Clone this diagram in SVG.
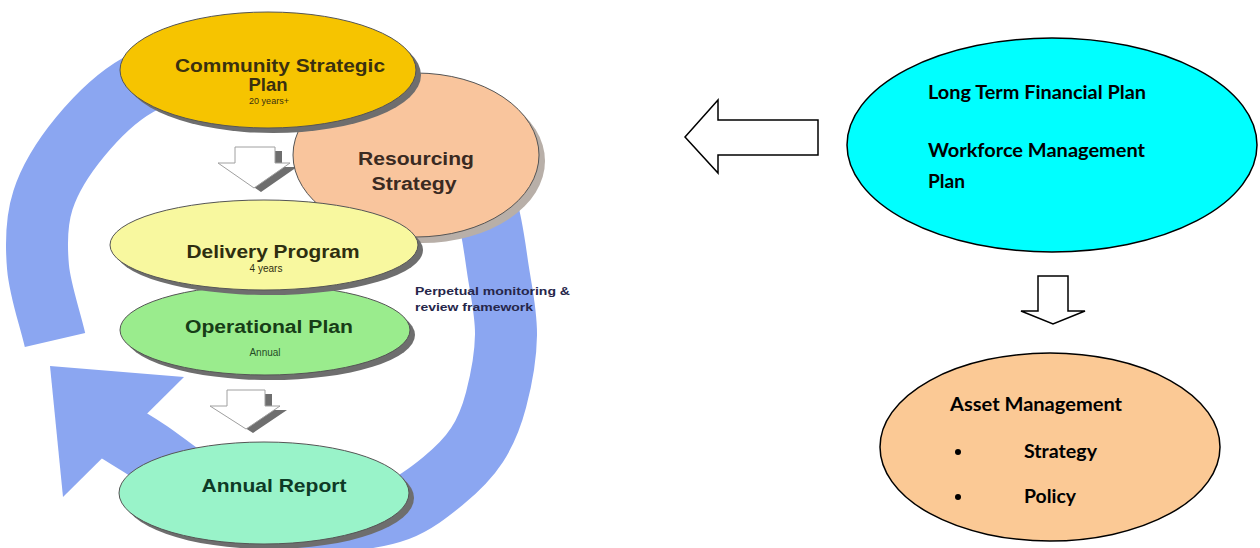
<svg xmlns="http://www.w3.org/2000/svg" width="1260" height="548" viewBox="0 0 1260 548">
  <style>
    .lbl { font-family: "Liberation Sans", Arial, sans-serif; font-weight: bold; text-anchor: middle; }
    .sub { font-family: "Liberation Sans", Arial, sans-serif; text-anchor: middle; }
    .cal { font-family: Lato, "Open Sans", sans-serif; font-weight: bold; fill: #000; }
    .edge { stroke: #555; stroke-width: 1; }
    .shadow { fill: #6e6e6e; }
    .ring { fill: none; stroke: #8ba6f1; stroke-width: 62; stroke-linecap: butt; stroke-linejoin: round; }
    .hollow { fill: #fff; stroke: #000; stroke-width: 1.5; stroke-linejoin: miter; }
    .hollow3d { fill: #fff; stroke: #a0a0a0; stroke-width: 1; }
  </style>

  <rect width="1260" height="548" fill="#fff"/>

  <!-- connectors: review cycle ring and flow arrows -->
  <g id="connectors">
    <path id="cycle-ring" class="ring"
          d="M 55 340 C 49.3 315.7, 40 290.3, 38 267 C 36 243.7, 36 221.7, 43 200 C 50 178.3, 64.2 156.2, 80 137 C 95.8 117.8, 113.8 98.7, 138 85 C 162.2 71.3, 196.3 58.8, 225 55 C 253.7 51.2, 283.3 54.5, 310 62 C 336.7 69.5, 360 86.2, 385 100 C 410 113.8, 443.2 127.5, 460 145 C 476.8 162.5, 479.7 184.2, 486 205 C 492.3 225.8, 494.7 248.3, 498 270 C 501.3 291.7, 506.3 313.3, 506 335 C 505.7 356.7, 500.8 381.7, 496 400 C 491.2 418.3, 485.8 431.5, 477 445 C 468.2 458.5, 456.2 470.2, 443 481 C 429.8 491.8, 415.2 503.5, 398 510 C 380.2 516.5, 361.3 519.2, 340 520 C 318.7 520.8, 292.5 520, 270 515 C 247.5 510, 225 500.5, 205 490 C 185 479.5, 164.5 461.7, 150 452 C 135.5 442.3, 128.7 438.7, 118 432"/>
    <polygon id="cycle-head" fill="#8ba6f1" points="50,366 184,377 63,497"/>

    <!-- 3D block arrow: strategic plan to delivery program -->
    <g id="arrow-csp-dp">
      <polygon class="shadow" points="242,151 282,151 282,167 297,167 261,192 225,167 242,167"/>
      <polygon class="hollow3d" points="235,147 275,147 275,163 290,163 254,188 218,163 235,163"/>
    </g>
    <!-- 3D block arrow: operational plan to annual report -->
    <g id="arrow-op-ar">
      <polygon class="shadow" points="234,394 272,394 272,410 287,410 253,433 217,410 234,410"/>
      <polygon class="hollow3d" points="227,390 265,390 265,406 280,406 246,429 210,406 227,406"/>
    </g>

    <!-- outline arrow pointing to the planning cycle -->
    <polygon id="arrow-left" class="hollow" points="685,137 718,100 718,120 818,120 818,155 718,155 718,173"/>
    <!-- outline arrow down to asset management -->
    <polygon id="arrow-down" class="hollow" points="1038,276 1068,276 1068,311 1085,311 1053,324 1021,311 1038,311"/>
  </g>

  <!-- Resourcing Strategy -->
  <g id="resourcing-strategy">
    <ellipse cx="422" cy="161" rx="123" ry="82" fill="#b8afa8"/>
    <ellipse class="edge" cx="416" cy="155" rx="123" ry="82" fill="#f9c59d"/>
    <text class="lbl" x="416" y="165" font-size="18" fill="#3a2a22" textLength="116" lengthAdjust="spacingAndGlyphs">Resourcing</text>
    <text class="lbl" x="414" y="190" font-size="18" fill="#3a2a22" textLength="85" lengthAdjust="spacingAndGlyphs">Strategy</text>
  </g>

  <!-- Community Strategic Plan -->
  <g id="community-strategic-plan">
    <ellipse class="shadow" cx="273" cy="75" rx="148" ry="58"/>
    <ellipse class="edge" cx="268" cy="70" rx="148" ry="58" fill="#f6c400"/>
    <text class="lbl" x="280" y="72" font-size="18.5" fill="#3a3010" textLength="210" lengthAdjust="spacingAndGlyphs">Community Strategic</text>
    <text class="lbl" x="268" y="91" font-size="18.5" fill="#3a3010">Plan</text>
    <text class="sub" x="269" y="104" font-size="9" fill="#3a3010">20 years+</text>
  </g>

  <!-- Operational Plan -->
  <g id="operational-plan">
    <ellipse class="shadow" cx="270" cy="335" rx="145" ry="45"/>
    <ellipse class="edge" cx="265" cy="330" rx="145" ry="45" fill="#9aec8d"/>
    <text class="lbl" x="269" y="333" font-size="18" fill="#173d17" textLength="168" lengthAdjust="spacingAndGlyphs">Operational Plan</text>
    <text class="sub" x="265" y="356" font-size="10" fill="#264d26">Annual</text>
  </g>

  <!-- Delivery Program -->
  <g id="delivery-program">
    <ellipse class="shadow" cx="269" cy="250" rx="154" ry="45"/>
    <ellipse class="edge" cx="264" cy="245" rx="154" ry="45" fill="#f8f89f"/>
    <text class="lbl" x="273" y="258" font-size="18.5" fill="#2e2e10" textLength="173" lengthAdjust="spacingAndGlyphs">Delivery Program</text>
    <text class="sub" x="266" y="272" font-size="10" fill="#2e2e10">4 years</text>
  </g>

  <!-- Annual Report -->
  <g id="annual-report">
    <ellipse class="shadow" cx="269" cy="498" rx="145" ry="51"/>
    <ellipse class="edge" cx="264" cy="493" rx="145" ry="51" fill="#99f3c9"/>
    <text class="lbl" x="274" y="492" font-size="19" fill="#0e3a26" textLength="145" lengthAdjust="spacingAndGlyphs">Annual Report</text>
  </g>

  <!-- ring caption -->
  <g id="ring-caption">
    <text x="415" y="295" font-family="'Liberation Sans', Arial, sans-serif" font-weight="bold" font-size="11" fill="#26264a" textLength="155" lengthAdjust="spacingAndGlyphs">Perpetual monitoring &amp;</text>
    <text x="415" y="311" font-family="'Liberation Sans', Arial, sans-serif" font-weight="bold" font-size="11" fill="#26264a" textLength="118" lengthAdjust="spacingAndGlyphs">review framework</text>
  </g>

  <!-- Long Term Financial Plan / Workforce Management Plan -->
  <g id="financial-workforce">
    <ellipse cx="1052" cy="145" rx="205" ry="107" fill="#00ffff" stroke="#000" stroke-width="1.5"/>
    <text class="cal" x="928" y="99" font-size="19" textLength="218" lengthAdjust="spacingAndGlyphs">Long Term Financial Plan</text>
    <text class="cal" x="928" y="157" font-size="19" textLength="217" lengthAdjust="spacingAndGlyphs">Workforce Management</text>
    <text class="cal" x="928" y="188" font-size="19" textLength="37" lengthAdjust="spacingAndGlyphs">Plan</text>
  </g>

  <!-- Asset Management -->
  <g id="asset-management">
    <ellipse cx="1050" cy="447" rx="170" ry="94" fill="#fbc995" stroke="#000" stroke-width="1.5"/>
    <text class="cal" x="950" y="411" font-size="19" textLength="172" lengthAdjust="spacingAndGlyphs">Asset Management</text>
    <circle cx="958" cy="452" r="3" fill="#000"/>
    <text class="cal" x="1024" y="458" font-size="19" textLength="73" lengthAdjust="spacingAndGlyphs">Strategy</text>
    <circle cx="958" cy="497" r="3" fill="#000"/>
    <text class="cal" x="1024" y="503" font-size="19" textLength="52" lengthAdjust="spacingAndGlyphs">Policy</text>
  </g>
</svg>
